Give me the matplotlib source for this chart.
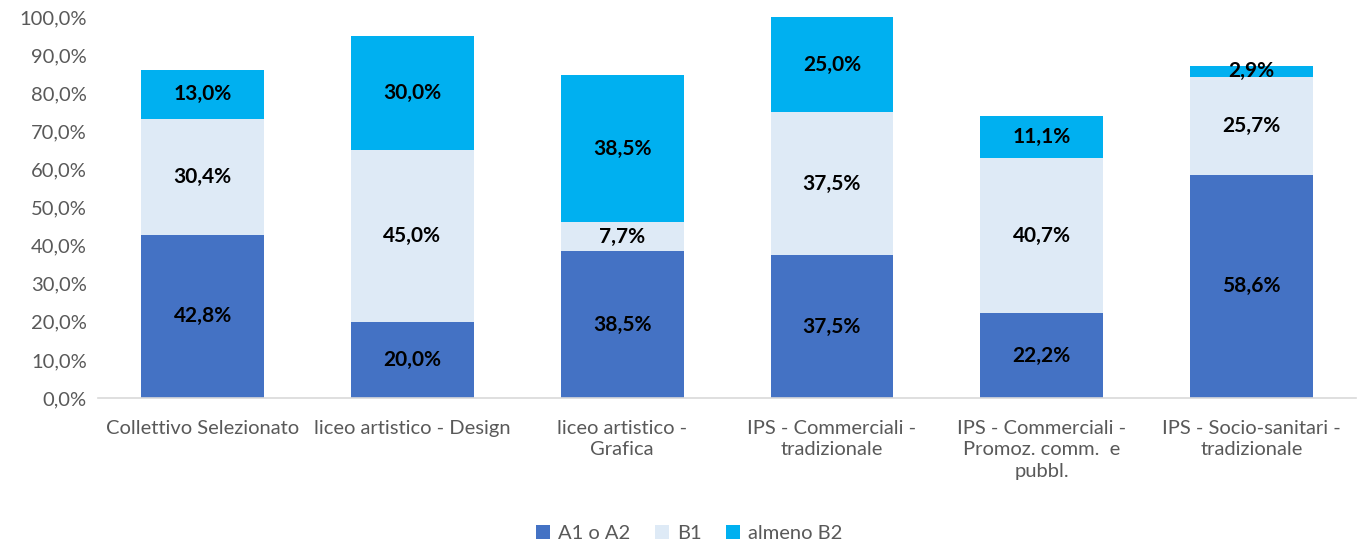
import matplotlib
matplotlib.use("Agg")
import matplotlib.pyplot as plt
import numpy as np
from matplotlib.ticker import FuncFormatter

plt.rcParams["font.family"] = ["Lato", "DejaVu Sans"]

categories = [
    "Collettivo Selezionato",
    "liceo artistico - Design",
    "liceo artistico -\nGrafica",
    "IPS - Commerciali -\ntradizionale",
    "IPS - Commerciali -\nPromoz. comm.  e\npubbl.",
    "IPS - Socio-sanitari -\ntradizionale",
]
a1_a2 = [42.8, 20.0, 38.5, 37.5, 22.2, 58.6]
b1 = [30.4, 45.0, 7.7, 37.5, 40.7, 25.7]
almeno_b2 = [13.0, 30.0, 38.5, 25.0, 11.1, 2.9]
series_names = ["A1 o A2", "B1", "almeno B2"]
colors = ["#4472C4", "#DEEAF6", "#00B0F0"]

fig = plt.figure(figsize=(13.59, 5.47), dpi=100)
ax = fig.add_axes([0.072, 0.2724, 0.926, 0.6966])

x = np.arange(len(categories))
width = 0.585
bottom = np.zeros(len(categories))
for name, vals, col in zip(series_names, [a1_a2, b1, almeno_b2], colors):
    ax.bar(x, vals, width, bottom=bottom, color=col, label=name)
    for xi, b, v in zip(x, bottom, vals):
        ax.text(xi, b + v / 2, f"{v:.1f}%".replace(".", ","), ha="center", va="center",
                fontsize=15, fontweight="bold", color="black")
    bottom += np.array(vals)

ax.set_ylim(0, 100)
ax.set_xlim(-0.5, len(categories) - 0.5)
ax.set_yticks(np.arange(0, 101, 10))
ax.yaxis.set_major_formatter(FuncFormatter(lambda v, p: f"{v:.1f}%".replace(".", ",")))
ax.set_xticks(x)
ax.set_xticklabels(categories, fontsize=14.5, color="#595959", linespacing=1.3)
ax.tick_params(axis="y", labelsize=14.5, labelcolor="#595959", length=0, pad=8)
ax.tick_params(axis="x", length=0, pad=16)
for s in ["top", "right", "left"]:
    ax.spines[s].set_visible(False)
ax.spines["bottom"].set_color("#D9D9D9")
ax.spines["bottom"].set_linewidth(1.2)

ax.legend(loc="lower center", bbox_to_anchor=(0.47, -0.425), ncol=3, frameon=False,
          fontsize=14.5, handlelength=0.7, handleheight=0.7, columnspacing=1.2,
          handletextpad=0.4, labelcolor="#595959")

fig.savefig("out.png", dpi=100)
